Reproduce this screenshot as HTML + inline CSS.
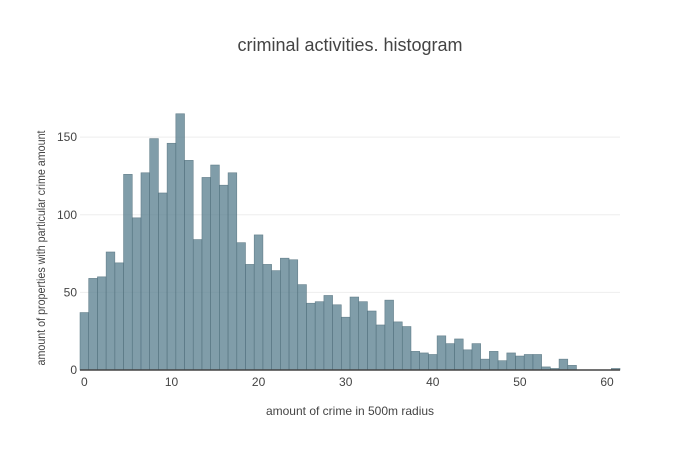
<!DOCTYPE html>
<html><head><meta charset="utf-8"><style>
body{margin:0;background:#fff;}
svg{display:block;font-family:"Liberation Sans",sans-serif;}
</style></head><body>
<svg id="s" width="700" height="450" viewBox="0 0 700 450">
<rect width="700" height="450" fill="#fff"/>
<g stroke="#eee" stroke-width="1">
<line x1="80" x2="620" y1="292.4" y2="292.4"/>
<line x1="80" x2="620" y1="214.7" y2="214.7"/>
<line x1="80" x2="620" y1="137.1" y2="137.1"/>
</g>
<g id="bars" fill="rgba(92,130,145,0.78)" stroke="rgba(80,110,122,0.8)" stroke-width="0.6"></g>
<line x1="80" x2="620" y1="370" y2="370" stroke="#444" stroke-width="1.5"/>
<g fill="#444" font-size="12" text-anchor="end">
<text x="77" y="374">0</text>
<text x="77" y="296.5">50</text>
<text x="77" y="219">100</text>
<text x="77" y="141">150</text>
</g>
<g fill="#444" font-size="12" text-anchor="middle">
<text x="84.4" y="386">0</text>
<text x="171.5" y="386">10</text>
<text x="258.6" y="386">20</text>
<text x="345.7" y="386">30</text>
<text x="432.8" y="386">40</text>
<text x="519.9" y="386">50</text>
<text x="607" y="386">60</text>
</g>
<text x="350" y="51" font-size="18" fill="#444" text-anchor="middle">criminal activities. histogram</text>
<text x="350" y="415" font-size="12" fill="#444" text-anchor="middle">amount of crime in 500m radius</text>
<text transform="translate(45,248) rotate(-90)" x="-117.5" y="0" font-size="12" fill="#444" textLength="235" lengthAdjust="spacingAndGlyphs">amount of properties with particular crime amount</text>
</svg>
<script>
var v=[37,59,60,76,69,126,98,127,149,114,146,165,135,84,124,132,119,127,82,68,87,68,64,72,71,55,43,44,48,42,34,47,44,38,29,45,31,28,12,11,10,22,17,20,13,17,7,12,6,11,9,10,10,2,1,7,3,0,0,0,0,1];
var g=document.getElementById('bars'),h='';
for(var k=0;k<v.length;k++){if(!v[k])continue;var x=80+8.71*k,hh=v[k]*1.553;
h+='<rect x="'+x.toFixed(2)+'" y="'+(370-hh).toFixed(2)+'" width="8.71" height="'+hh.toFixed(2)+'"/>';}
g.innerHTML=h;
</script>
</body></html>
